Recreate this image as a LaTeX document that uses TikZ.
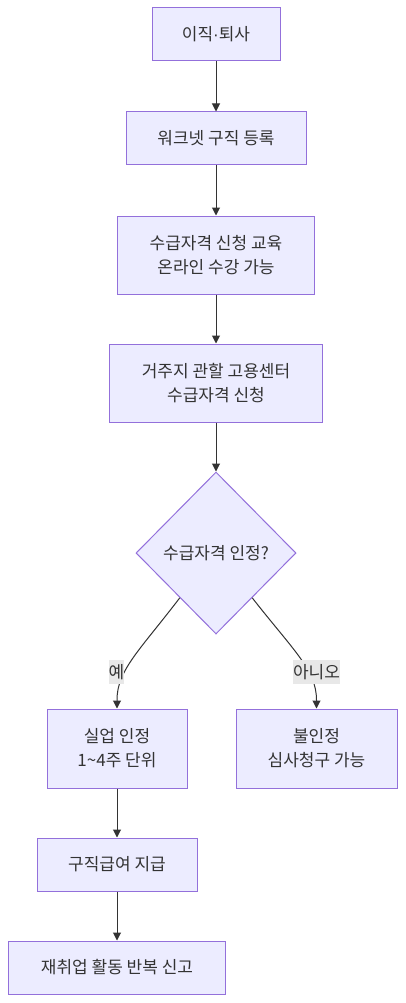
\documentclass[tikz,border=0pt]{standalone}
\usepackage{fontspec}
\setmainfont{Noto Sans CJK KR}
\newfontfamily\dotfont{Liberation Sans}
\usetikzlibrary{arrows.meta,shapes.geometric,calc}
\definecolor{boxfill}{HTML}{ECECFF}
\definecolor{boxline}{HTML}{9370DB}
\definecolor{edgecol}{HTML}{333333}
\definecolor{lblbg}{HTML}{E8E8E8}
\begin{document}
\begin{tikzpicture}[x=1pt,y=-1pt,
  box/.style={draw=boxline, fill=boxfill, line width=1pt, text=edgecol,
    font=\fontsize{17}{24}\selectfont, align=center, inner sep=0pt},
  decbox/.style={diamond, draw=boxline, fill=boxfill, line width=1pt, text=edgecol,
    font=\fontsize{17}{24}\selectfont, align=center, inner sep=0pt, aspect=1},
  conn/.style={draw=edgecol, line width=1pt, -{Triangle[length=8pt,width=8pt]}},
  lbl/.style={fill=lblbg, text=edgecol, font=\fontsize{17}{24}\selectfont,
    inner xsep=0pt, inner ysep=0pt, minimum height=24pt}]
\useasboundingbox (0,0) rectangle (405,1003);
\node[box, minimum width=128pt, minimum height=53pt] (n1) at (216,34.5) {이직{\dotfont ·}퇴사};
\node[box, minimum width=180pt, minimum height=53pt] (n2) at (216,138.5) {워크넷 구직 등록};
\node[box, minimum width=197pt, minimum height=78pt] (n3) at (216,255) {수급자격 신청 교육\\온라인 수강 가능};
\node[box, minimum width=213pt, minimum height=78pt] (n4) at (216,383) {거주지 관할 고용센터\\수급자격 신청};
\node[decbox, minimum width=160pt, minimum height=162pt] (d) at (216,553) {수급자격 인정?};
\node[box, minimum width=140pt, minimum height=79pt] (n5) at (117,748.5) {실업 인정\\1\textasciitilde4주 단위};
\node[box, minimum width=161pt, minimum height=79pt] (n6) at (316.5,748.5) {불인정\\심사청구 가능};
\node[box, minimum width=160pt, minimum height=53pt] (n7) at (117,864.5) {구직급여 지급};
\node[box, minimum width=217pt, minimum height=53pt] (n8) at (117,967.5) {재취업 활동 반복 신고};
\draw[conn] (n1) -- (n2);
\draw[conn] (n2) -- (n3);
\draw[conn] (n3) -- (n4);
\draw[conn] (n4) -- (d);
\coordinate (dl) at ($(d.south)!0.45!(d.west)$);
\coordinate (dr) at ($(d.south)!0.45!(d.east)$);
\draw[conn] (dl) .. controls (140,650) and (117,670) .. (117,700) -- (n5.north);
\draw[conn] (dr) .. controls (293,650) and (316.5,670) .. (316.5,700) -- (n6.north);
\node[lbl] (l1) at (116.5,672) {예};
\node[lbl] (l2) at (316.5,672) {아니오};
\draw[conn] (n5) -- (n7);
\draw[conn] (n7) -- (n8);
\end{tikzpicture}
\end{document}
